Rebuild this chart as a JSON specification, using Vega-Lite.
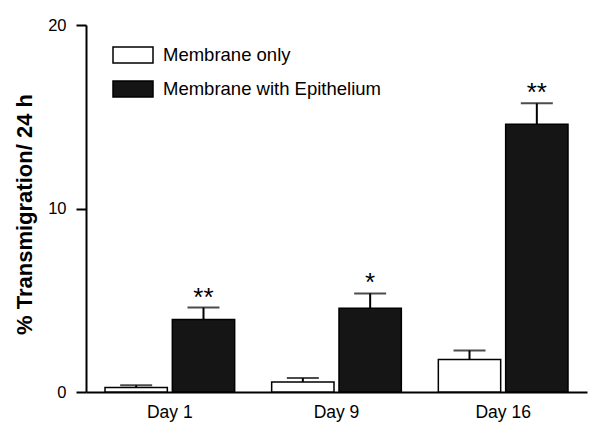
{
  "$schema": "https://vega.github.io/schema/vega-lite/v6.json",
  "width": 501,
  "height": 367,
  "autosize": {"type": "none"},
  "padding": {"left": 86, "top": 25, "right": 14, "bottom": 41},
  "background": "white",
  "config": {
    "view": {"stroke": null},
    "font": "Liberation Sans",
    "axis": {"domainColor": "black", "tickColor": "black", "labelColor": "black", "titleColor": "black", "grid": false}
  },
  "data": {
    "values": [
      {"day": "Day 1", "group": "Membrane only", "value": 0.24, "upper": 0.37, "sig": ""},
      {"day": "Day 1", "group": "Membrane with Epithelium", "value": 3.95, "upper": 4.6, "sig": "**"},
      {"day": "Day 9", "group": "Membrane only", "value": 0.55, "upper": 0.76, "sig": ""},
      {"day": "Day 9", "group": "Membrane with Epithelium", "value": 4.57, "upper": 5.37, "sig": "*"},
      {"day": "Day 16", "group": "Membrane only", "value": 1.77, "upper": 2.26, "sig": ""},
      {"day": "Day 16", "group": "Membrane with Epithelium", "value": 14.59, "upper": 15.73, "sig": "**"}
    ]
  },
  "encoding": {
    "x": {
      "field": "day", "type": "nominal", "sort": ["Day 1", "Day 9", "Day 16"],
      "scale": {"paddingInner": 0.222, "paddingOuter": 0.114},
      "axis": {"title": null, "labelAngle": 0, "ticks": false, "labelPadding": 11, "labelFontSize": 17.5, "domainWidth": 2}
    },
    "xOffset": {
      "field": "group", "type": "nominal", "sort": ["Membrane only", "Membrane with Epithelium"],
      "scale": {"paddingInner": 0.074, "paddingOuter": 0}
    }
  },
  "layer": [
    {
      "mark": {"type": "bar", "stroke": "black", "strokeWidth": 1.5},
      "encoding": {
        "y": {
          "field": "value", "type": "quantitative",
          "scale": {"domain": [0, 20], "nice": false},
          "axis": {
            "values": [0, 10, 20], "title": "% Transmigration/ 24 h",
            "titleFontSize": 22, "titleFontWeight": "bold", "titlePadding": 11, "titleY": 189,
            "labelFontSize": 16.5, "labelPadding": 10, "tickSize": 10, "tickWidth": 2, "domainWidth": 2
          }
        },
        "fill": {
          "field": "group", "type": "nominal",
          "scale": {"domain": ["Membrane only", "Membrane with Epithelium"], "range": ["white", "#151515"]},
          "legend": {
            "orient": "none", "legendX": 26, "legendY": 9, "title": null, "padding": 0,
            "symbolType": "M-1,-0.4L1,-0.4L1,0.4L-1,0.4Z", "symbolSize": 1600,
            "symbolStrokeColor": "black", "symbolStrokeWidth": 1.5,
            "labelFontSize": 18.5, "labelColor": "black", "labelOffset": 9, "labelLimit": 400, "rowPadding": 2
          }
        }
      }
    },
    {
      "mark": {"type": "rule", "strokeWidth": 2, "color": "black"},
      "encoding": {
        "y": {"field": "value", "type": "quantitative"},
        "y2": {"field": "upper"}
      }
    },
    {
      "mark": {"type": "tick", "size": 32, "thickness": 2, "color": "black"},
      "encoding": {
        "y": {"field": "upper", "type": "quantitative"}
      }
    },
    {
      "mark": {"type": "text", "fontSize": 26, "baseline": "alphabetic", "dy": -2, "color": "black"},
      "encoding": {
        "y": {"field": "upper", "type": "quantitative"},
        "text": {"field": "sig"}
      }
    }
  ]
}
